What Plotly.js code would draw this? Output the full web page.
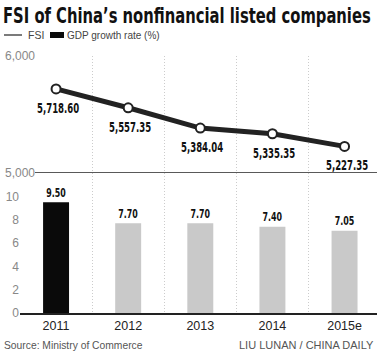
<!DOCTYPE html>
<html>
<head>
<meta charset="utf-8">
<script src="https://cdn.plot.ly/plotly-3.0.1.min.js"></script>
<style>
html,body{margin:0;padding:0;background:#fff;}
#chart{width:377px;height:352px;}
</style>
</head>
<body>
<div id="chart"></div>
<script>
var categories = ['2011', '2012', '2013', '2014', '2015e'];
var fsiValues = [5718.60, 5557.35, 5384.04, 5335.35, 5227.35];
var gdpValues = [9.50, 7.70, 7.70, 7.40, 7.05];
var yTicksGdp = [0, 2, 4, 6, 8, 10];
var yTicksFsi = [5000, 6000];

var COND = '"DejaVu Sans Condensed", "Liberation Sans Narrow", sans-serif';
var PLAIN = '"Liberation Sans", Arial, sans-serif';
var barColors = categories.map(function (c, i) { return i === 0 ? '#0a0a0a' : '#c9c9c9'; });

function fmt(v) {
  return v.toLocaleString('en-US', {minimumFractionDigits: 2, maximumFractionDigits: 2});
}

var traces = [
  {
    type: 'bar', x: categories, y: gdpValues, xaxis: 'x', yaxis: 'y',
    width: 0.36,
    marker: {color: barColors, line: {width: 0}},
    texttemplate: '%{y:.2f}', textposition: 'outside',
    textfont: {family: COND, size: 14, color: '#111', weight: 'bold'},
    cliponaxis: false, hoverinfo: 'skip'
  },
  {
    type: 'scatter', mode: 'lines+markers', x: categories, y: fsiValues,
    xaxis: 'x', yaxis: 'y2',
    line: {color: '#222', width: 5},
    marker: {size: 9, color: '#fff', line: {color: '#222', width: 2}},
    cliponaxis: false, hoverinfo: 'skip'
  }
];

var annotations = fsiValues.map(function (v, i) {
  return {
    x: i, y: v, xref: 'x', yref: 'y2', yshift: -19, xshift: 2,
    text: fmt(v), showarrow: false,
    font: {family: COND, size: 14, color: '#111', weight: 'bold'}
  };
});

var PL = 20, PW = 357, PT = 56, PH = 257;
function px(x) { return (x - PL) / PW; }
function py(y) { return (PT + PH - y) / PH; }

annotations.push(
  {xref: 'paper', yref: 'paper', x: px(26), y: py(35), xanchor: 'left', yanchor: 'middle',
   text: 'FSI', showarrow: false, font: {family: PLAIN, size: 10.5, color: '#444'}},
  {xref: 'paper', yref: 'paper', x: px(65), y: py(35), xanchor: 'left', yanchor: 'middle',
   text: 'GDP growth rate (%)', showarrow: false, font: {family: PLAIN, size: 10, color: '#444'}},
  {xref: 'paper', yref: 'paper', x: px(2), y: py(345), xanchor: 'left', yanchor: 'middle',
   text: 'Source: Ministry of Commerce', showarrow: false, font: {family: PLAIN, size: 10.3, color: '#555'}},
  {xref: 'paper', yref: 'paper', x: px(376), y: py(345), xanchor: 'right', yanchor: 'middle',
   text: 'LIU LUNAN / CHINA DAILY', showarrow: false, font: {family: PLAIN, size: 11, color: '#555'}}
);

var shapes = [
  {type: 'line', xref: 'paper', yref: 'y2', x0: px(35), x1: 1, y0: 5000, y1: 5000,
   line: {color: '#222', width: 1.5}},
  {type: 'line', xref: 'paper', yref: 'paper', x0: px(4), x1: px(22), y0: py(35), y1: py(35),
   line: {color: '#333', width: 1.3}},
  {type: 'rect', xref: 'paper', yref: 'paper', x0: px(50), x1: px(64), y0: py(38), y1: py(32),
   fillcolor: '#0a0a0a', line: {width: 0}}
];

var layout = {
  width: 377, height: 352,
  margin: {l: PL, r: 0, t: PT, b: 39, pad: 0},
  paper_bgcolor: '#fff', plot_bgcolor: '#fff',
  showlegend: false,
  title: {
    text: 'FSI of China\u2019s nonfinancial listed companies',
    font: {family: COND, size: 22, color: '#111', weight: 'bold'},
    x: 0.008, xanchor: 'left', xref: 'container',
    y: 1 - 15 / 352, yanchor: 'middle', yref: 'container'
  },
  xaxis: {
    type: 'category', range: [-0.5, 4.45], tickson: 'boundaries',
    ticks: '', ticklen: 0,
    showgrid: true, gridcolor: '#cccccc', griddash: '1px,2px', gridwidth: 1,
    showline: true, linecolor: '#222', linewidth: 1.5,
    zeroline: false, anchor: 'y',
    tickfont: {family: PLAIN, size: 12.5, color: '#222'}
  },
  yaxis: {
    domain: [0, 140 / 257], range: [0, 12], tickvals: yTicksGdp,
    showgrid: false, zeroline: false, showline: false, ticks: '',
    tickfont: {family: PLAIN, size: 12, color: '#888'}
  },
  yaxis2: {
    domain: [140 / 257, 1], range: [5000, 6000], tickvals: yTicksFsi, tickformat: ',',
    anchor: 'x', showgrid: false, zeroline: false, showline: false, ticks: '',
    ticklabelstandoff: -16, ticklabeloverflow: 'allow',
    tickfont: {family: PLAIN, size: 12, color: '#888'}
  },
  shapes: shapes,
  annotations: annotations
};

// Narrow a text horizontally with a transform (keeps its bounding box honest)
function squeezeT(el, factor, pivot) {
  var bb = el.getBBox();
  if (!bb.width) return;
  var cx = pivot === 'left' ? bb.x : bb.x + bb.width / 2;
  var prev = el.getAttribute('transform') || '';
  el.setAttribute('transform',
    'translate(' + cx + ',0) scale(' + factor + ',1) translate(' + (-cx) + ',0) ' + prev);
}
function squeezeL(el, factor) {
  var w = el.getComputedTextLength();
  if (w > 0) {
    el.setAttribute('textLength', (w * factor).toFixed(2));
    el.setAttribute('lengthAdjust', 'spacingAndGlyphs');
  }
}

Plotly.newPlot('chart', traces, layout, {staticPlot: true, displayModeBar: false}).then(function () {
  var t = document.querySelector('.gtitle');
  if (t) {
    var w = t.getBBox().width;
    if (w > 368) squeezeT(t, 368 / w, 'left');
  }
  var labels = fsiValues.map(fmt);
  document.querySelectorAll('.annotation-text').forEach(function (el) {
    if (labels.indexOf(el.textContent) >= 0) squeezeT(el, 0.68, 'center');
  });
  document.querySelectorAll('.bartext').forEach(function (el) { squeezeL(el, 0.76); });
});
</script>
</body>
</html>
